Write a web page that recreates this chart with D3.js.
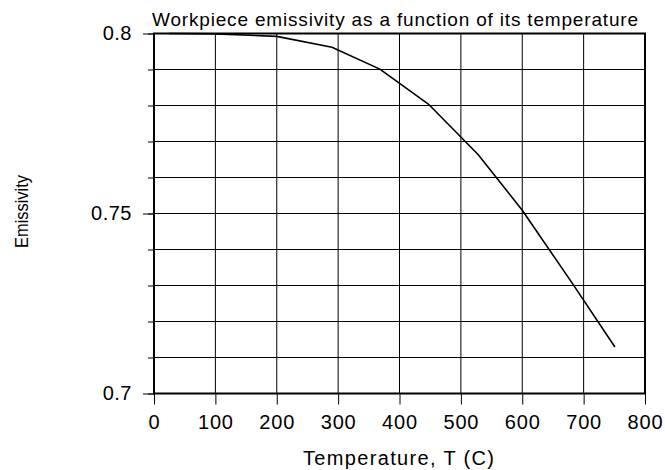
<!DOCTYPE html>
<html>
<head>
<meta charset="utf-8">
<script src="https://cdn.jsdelivr.net/npm/d3@7"></script>
<style>
  html, body { margin: 0; padding: 0; background: #fff; }
  svg { display: block; font-family: Arial, "Liberation Sans", sans-serif; }
</style>
</head>
<body>
<svg id="chart" width="665" height="470"></svg>
<script>
// Emissivity curve: temperature (C) vs emissivity
const temperature = [25, 100, 200, 290, 368, 447, 528, 600, 680, 751];
const emissivity  = [0.8000, 0.7999, 0.7992, 0.7962, 0.7901, 0.7804, 0.7664, 0.7509, 0.7310, 0.7129];

const xTicks = [0, 100, 200, 300, 400, 500, 600, 700, 800];
const yMajorTicks = [0.7, 0.75, 0.8];
const yMinorTicks = d3.range(0, 11).map(i => +(0.7 + i * 0.01).toFixed(2));

const titleText = "Workpiece emissivity as a function of its temperature";
const xLabel = "Temperature, T (C)";
const yLabel = "Emissivity";

const svg = d3.select("#chart");
const plotLeft = 154, plotRight = 645, plotTop = 33.5, plotBottom = 393.5;

const x = d3.scaleLinear().domain([0, 800]).range([plotLeft, plotRight]);
const y = d3.scaleLinear().domain([0.7, 0.8]).range([plotBottom, plotTop]);

// grid
const grid = svg.append("g").attr("stroke", "#000").attr("stroke-width", 1);
grid.selectAll("line.v").data(xTicks.slice(1, -1)).join("line")
  .attr("class", "v")
  .attr("x1", d => x(d)).attr("x2", d => x(d))
  .attr("y1", plotTop).attr("y2", plotBottom);
grid.selectAll("line.h").data(yMinorTicks.slice(1, -1)).join("line")
  .attr("class", "h")
  .attr("x1", plotLeft).attr("x2", plotRight)
  .attr("y1", d => y(d)).attr("y2", d => y(d));

// minor y ticks
const yMinor = svg.append("g").attr("transform", `translate(${plotLeft},0)`)
  .call(d3.axisLeft(y).tickValues(yMinorTicks).tickSize(6).tickSizeOuter(0).tickFormat(""));
yMinor.select(".domain").remove();

// major y ticks with labels
const yAxis = svg.append("g").attr("transform", `translate(${plotLeft},0)`)
  .call(d3.axisLeft(y).tickValues(yMajorTicks).tickSize(11).tickSizeOuter(0).tickPadding(11)
    .tickFormat(d => String(d)));
yAxis.select(".domain").remove();
yAxis.selectAll("text").attr("font-size", 20).attr("font-family", "Arial, 'Liberation Sans', sans-serif")
  .attr("fill", "#000").attr("letter-spacing", 0.5);

// x axis ticks with labels
const xAxis = svg.append("g").attr("transform", `translate(0,${plotBottom})`)
  .call(d3.axisBottom(x).tickValues(xTicks).tickSize(11).tickSizeOuter(0).tickPadding(10));
xAxis.select(".domain").remove();
xAxis.selectAll("text").attr("font-size", 20).attr("font-family", "Arial, 'Liberation Sans', sans-serif")
  .attr("fill", "#000").attr("letter-spacing", 0.8);

// plot frame
svg.append("rect")
  .attr("x", plotLeft).attr("y", plotTop)
  .attr("width", plotRight - plotLeft).attr("height", plotBottom - plotTop)
  .attr("fill", "none").attr("stroke", "#000").attr("stroke-width", 2);

// curve
const line = d3.line().x((d, i) => x(temperature[i])).y(d => y(d));
svg.append("path")
  .datum(emissivity)
  .attr("d", line)
  .attr("fill", "none").attr("stroke", "#000").attr("stroke-width", 1.6)
  .attr("stroke-linejoin", "round");

// title
svg.append("text")
  .attr("x", 152).attr("y", 26)
  .attr("font-size", 19)
  .attr("textLength", 486).attr("lengthAdjust", "spacing")
  .text(titleText);

// axis titles
svg.append("text")
  .attr("x", 398.5).attr("y", 465)
  .attr("text-anchor", "middle")
  .attr("font-size", 20)
  .attr("textLength", 191).attr("lengthAdjust", "spacing")
  .text(xLabel);

svg.append("text")
  .attr("transform", "translate(28,211.5) rotate(-90)")
  .attr("text-anchor", "middle")
  .attr("font-size", 18)
  .attr("textLength", 73).attr("lengthAdjust", "spacingAndGlyphs")
  .text(yLabel);
</script>
</body>
</html>
